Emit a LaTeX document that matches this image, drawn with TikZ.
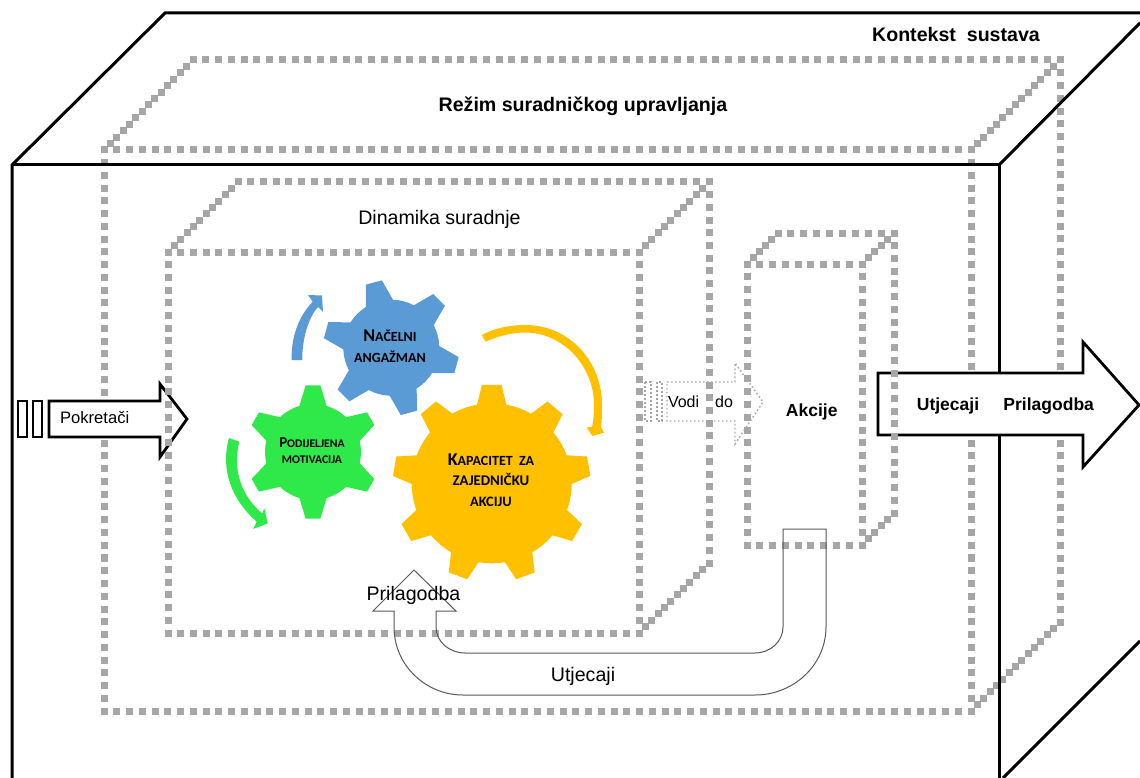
\documentclass[tikz,border=0pt]{standalone}
\usepackage{fontspec}
\setmainfont{Liberation Sans}
\newfontfamily\gearfont{Carlito}
\definecolor{dotgray}{HTML}{A6A6A6}
\definecolor{gearblue}{HTML}{5B9BD5}
\definecolor{geargreen}{HTML}{2FE94B}
\definecolor{gearyellow}{HTML}{FFC000}
\tikzset{
	sysline/.style={line width=3pt,black},
	boldarrow/.style={line width=2.8pt,black,fill=white,miter limit=10},
	thinarrow/.style={line width=1pt,black!65},
	vodiline/.style={line width=1.4pt,dotgray,dash pattern=on 1.6pt off 2.4pt},
	txt/.style={anchor=base,inner sep=0pt},
	largetxt/.style={txt,font=\fontsize{19.6}{22}\selectfont},
	largebold/.style={txt,font=\bfseries\fontsize{19.6}{22}\selectfont},
	arrowbold/.style={txt,font=\bfseries\fontsize{17.5}{20}\selectfont},
	gearbig/.style={align=center,inner sep=0pt,text=black,font=\gearfont\bfseries\fontsize{14}{20.7}\selectfont},
	gearsmall/.style={align=center,inner sep=0pt,text=black,font=\gearfont\bfseries\fontsize{12}{16}\selectfont},
}
\newcommand{\gearfill}[9]{
	\pgfmathsetmacro\gearstep{360/#5}
	\fill[#9,shift={(#1,#2)}] ({#6-#8}:#3)
		\foreach \k in {1,...,#5} {
			-- ({#6+(\k-1)*\gearstep-#7}:#4) -- ({#6+(\k-1)*\gearstep+#7}:#4)
			-- ({#6+(\k-1)*\gearstep+#8}:#3)
			arc ({#6+(\k-1)*\gearstep+#8}:{#6+\k*\gearstep-#8}:#3)
		} -- cycle;
}
\newcommand{\dotrun}[5]{
	\pgfmathtruncatemacro\dotcount{round(veclen((#3-#1)/100,(#4-#2)/100)*100/#5)}
	\foreach \d in {0,...,\dotcount} {
		\fill[dotgray] ({#1+(#3-#1)*(\d/\dotcount)-3.5},{#2+(#4-#2)*(\d/\dotcount)-3.5}) rectangle +(7,7);
	}
}
\newcommand{\dotface}[4]{
	\dotrun{#1}{#2}{#3}{#2}{12.8}
	\dotrun{#1}{#4}{#3}{#4}{12.8}
	\dotrun{#1}{#2}{#1}{#4}{12.8}
	\dotrun{#3}{#2}{#3}{#4}{12.8}
}
\newcommand{\capsline}[4]{{\fontsize{#1}{20}\selectfont #3}{\fontsize{#2}{20}\selectfont #4}}
\begin{document}
\begin{tikzpicture}[x=1pt,y=-1pt]
	\clip (0,0) rectangle (1140,778);
	\fill[white] (0,0) rectangle (1140,778);

	\dotface{104}{150}{971}{711}
	\dotrun{104}{150}{193}{60}{9.2}
	\dotrun{971}{150}{1060}{60}{9.2}
	\dotrun{971}{711}{1060}{622}{9.2}
	\dotrun{193}{60}{1060}{60}{12.8}
	\dotrun{1060}{60}{1060}{622}{12.8}

	\draw[sysline] (12,778) -- (12,165) -- (165,13) -- (1140,13);
	\draw[sysline] (12,165) -- (999,165) -- (999,778);
	\draw[sysline] (999,165) -- (1140,23);
	\draw[sysline] (1003,778) -- (1140,641);

	\draw[boldarrow] (18,401) rectangle (27,437);
	\draw[boldarrow] (33,401) rectangle (42,437);
	\draw[boldarrow] (49,401) -- (160,401) -- (160,384) -- (187,419) -- (160,457) -- (160,437) -- (49,437) -- cycle;

	\dotface{168}{252}{639}{633}
	\dotrun{168}{252}{238}{182}{9.2}
	\dotrun{639}{252}{709}{182}{9.2}
	\dotrun{639}{633}{709}{563}{9.2}
	\dotrun{238}{182}{709}{182}{12.8}
	\dotrun{709}{182}{709}{563}{12.8}

	\draw[boldarrow] (878,373) -- (1083,373) -- (1083,342) -- (1139,405) -- (1083,467) -- (1083,435) -- (878,435) -- cycle;

	\dotface{747}{264}{862}{545}
	\dotrun{747}{264}{778}{233}{9.2}
	\dotrun{862}{264}{894}{233}{9.2}
	\dotrun{862}{545}{894}{513}{9.2}
	\dotrun{778}{233}{894}{233}{12.8}
	\dotrun{894}{233}{894}{513}{12.8}

	\gearfill{391.3}{347.7}{48}{68}{6}{15}{7}{17}{gearblue}
	\gearfill{313}{452}{48}{67}{6}{90}{6.3}{16.5}{geargreen}
	\gearfill{491.7}{483.3}{80}{99}{9}{270}{5.7}{10.5}{gearyellow}

	\fill[gearblue] (291.7,360) .. controls (291,340) and (297,318) .. (312.7,301.7) -- (308,295) -- (322,295.5) -- (323,312) -- (318,307) .. controls (308,318) and (302,340) .. (302.3,360) -- cycle;
	\fill[geargreen] (229,438) .. controls (220,470) and (232,500) .. (256.7,521.7) -- (253.3,529) -- (267.7,523.3) -- (264.3,508.3) -- (262.3,513.3) .. controls (242,497) and (232,470) .. (239.3,441.7) -- cycle;
	\fill[gearyellow] (481.7,335) .. controls (495,328) and (510,325) .. (525,325) .. controls (570,325) and (602,362) .. (602,405) .. controls (602,413) and (602,420) .. (601,427) -- (604,432.7) -- (592.3,436) -- (586.7,427.3) -- (592,427) .. controls (594,418) and (594,410) .. (594,405) .. controls (594,366) and (563,332.5) .. (525,332.5) .. controls (512,332.5) and (498,336) .. (485.7,341.7) -- cycle;

	\draw[vodiline] (645,382) rectangle (651,421);
	\draw[vodiline] (657,382) rectangle (662,421);
	\draw[vodiline] (667,382) -- (735,382) -- (735,363) -- (763,402) -- (735,444) -- (735,421) -- (667,421) -- cycle;

	\draw[thinarrow] (826,529) -- (783,529) -- (783,627) .. controls (783,641.4) and (770.5,653) .. (755,653) -- (465,653) .. controls (449,653) and (436,641.4) .. (436,627) -- (436,611) -- (456,611) -- (414,570) -- (373,611) -- (394,611) -- (394,627) .. controls (394,664.6) and (425,695) .. (463,695) -- (755,695) .. controls (794,695) and (826,664.6) .. (826,627) -- cycle;

	\node[largebold] (kontekst) at (956,41.5) {Kontekst\ \ sustava};
	\node[largebold] (rezim) at (583,112) {Režim suradničkog upravljanja};
	\node[largetxt] (dinamika) at (439.5,224) {Dinamika suradnje};
	\node[txt,font=\fontsize{16.6}{20}\selectfont] (pokretaci) at (94.7,423) {Pokretači};
	\node[txt,font=\fontsize{16}{20}\selectfont] (vodi) at (700.5,407) {Vodi\hspace{16pt}do};
	\node[arrowbold] (akcije) at (811.7,416.7) {Akcije};
	\node[arrowbold] (utjecajiout) at (948,410) {Utjecaji};
	\node[arrowbold] (prilagodbaout) at (1048.7,410) {Prilagodba};
	\node[largetxt] (prilagodba) at (413.5,600) {Prilagodba};
	\node[largetxt] (utjecaji) at (583,681) {Utjecaji};

	\node[gearbig] (nacelni) at (390,346.5) {\capsline{18}{14}{N}{AČELNI}\\\capsline{14}{14}{A}{NGAŽMAN}};
	\node[gearsmall] (motivacija) at (312,451) {\capsline{15}{11.7}{P}{ODIJELJENA}\\\capsline{11.7}{11.7}{M}{OTIVACIJA}};
	\node[gearbig] (kapacitet) at (491,480) {\capsline{18}{14}{K}{APACITET\ \ ZA}\\\capsline{14.8}{14.8}{Z}{AJEDNIČKU}\\\capsline{14.4}{14.4}{A}{KCIJU}};
\end{tikzpicture}
\end{document}
